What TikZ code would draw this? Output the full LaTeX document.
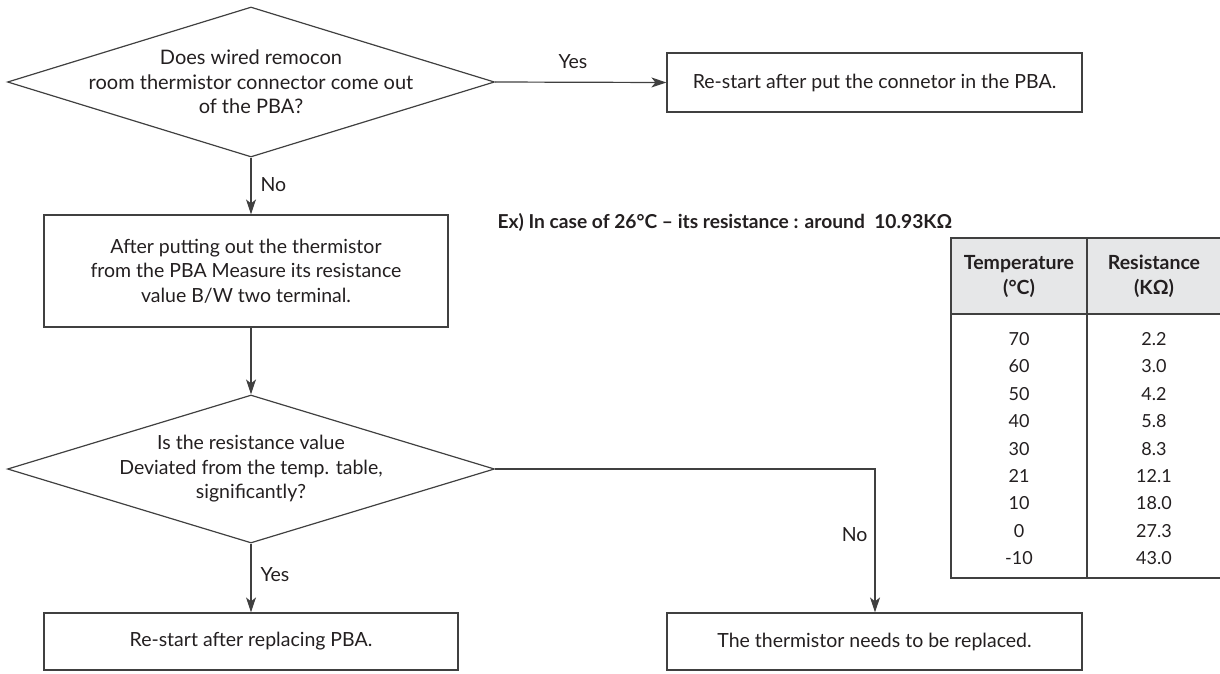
\documentclass[tikz,border=0pt]{standalone}
\usepackage{fontspec}
\setmainfont{Lato}
\usetikzlibrary{shapes.geometric,arrows.meta}
\definecolor{ln}{HTML}{404040}
\definecolor{tx}{HTML}{231F20}
\definecolor{hd}{HTML}{E6E7E8}
\begin{document}
\begin{tikzpicture}[x=1pt,y=-1pt,
  every node/.style={text=tx},
  dia/.style={draw=ln,line width=1.2pt,diamond,inner sep=0pt},
  boxx/.style={draw=ln,line width=1.2pt,rectangle,inner sep=0pt},
  txt/.style={align=center,font=\fontsize{19.5}{24.5}\selectfont},
  lbl/.style={font=\fontsize{19.5}{22}\selectfont},
  conn/.style={draw=ln,line width=1.2pt,-{Stealth[length=15pt,width=10pt,inset=4pt]}},
  tbl/.style={font=\fontsize{18}{20}\selectfont},
  tbh/.style={font=\bfseries\fontsize{19.5}{25}\selectfont,align=center}]
\useasboundingbox (0,0) rectangle (1220,673);
% shapes
\node[dia,minimum width=487,minimum height=150] (d1) at (251,82) {};
\node[txt,font=\fontsize{20}{24.5}\selectfont] (d1t) at (251,82) {Does wired remocon\\room thermistor connector come out\\of the PBA?};
\node[boxx,minimum width=415,minimum height=59] (b1) at (874.5,82.5) {};
\node[txt] (b1t) at (874.5,82.5) {Re-start after put the connetor in the PBA.};
\node[boxx,minimum width=404,minimum height=112] (b2) at (246,271) {};
\node[txt] (b2t) at (246,271) {After putting out the thermistor\\from the PBA Measure its resistance\\value B/W two terminal.};
\node[dia,minimum width=487,minimum height=148] (d2) at (251,469) {};
\node[txt] (d2t) at (251,469) {Is the resistance value\\Deviated from the temp. table,\\significantly?};
\node[boxx,minimum width=414,minimum height=57] (b3) at (251,641.5) {};
\node[txt] (b3t) at (251,641.5) {Re-start after replacing PBA.};
\node[boxx,minimum width=415,minimum height=57] (b4) at (874.5,641.5) {};
\node[txt] (b4t) at (874.5,641.5) {The thermistor needs to be replaced.};
\coordinate (c1) at (875,469);
% connectors
\draw[conn] (d1.east) -- (b1.west);
\draw[conn] (d1.south) -- (d1.south |- b2.north);
\draw[conn] (b2.south -| d2.north) -- (d2.north);
\draw[conn] (d2.south) -- (b3.north);
\draw[conn] (d2.east) -- (c1) -- (c1 |- b4.north);
% labels
\node[lbl] (ly1) at (573,62) {Yes};
\node[lbl,anchor=west] (ln1) at (257,185) {No};
\node[lbl,anchor=west] (ly2) at (257,575) {Yes};
\node[lbl,anchor=east] (ln2) at (871,535) {No};
\node[anchor=west,font=\bfseries\fontsize{19.2}{20}\selectfont] (ex) at (494,222) {Ex) In case of 26°C – its resistance : around~ 10.93KΩ};
% table
\fill[hd] (951,238) rectangle (1220,314);
\draw[draw=ln,line width=1.2pt] (1220,238) -- (951,238) -- (951,578) -- (1220,578);
\draw[draw=ln,line width=1.2pt] (951,314) -- (1220,314);
\draw[draw=ln,line width=1.2pt] (1087,238) -- (1087,578);
\node[tbh] (h1) at (1019,276) {Temperature\\(°C)};
\node[tbh] (h2) at (1154,276) {Resistance\\(KΩ)};
\foreach \t/\r [count=\i from 0] in {70/2.2,60/3.0,50/4.2,40/5.8,30/8.3,21/12.1,10/18.0,0/27.3,-10/43.0}{
  \node[tbl] (t\i) at (1019,339+27.4*\i) {\t};
  \node[tbl] (r\i) at (1154,339+27.4*\i) {\r};
}
\end{tikzpicture}
\end{document}
